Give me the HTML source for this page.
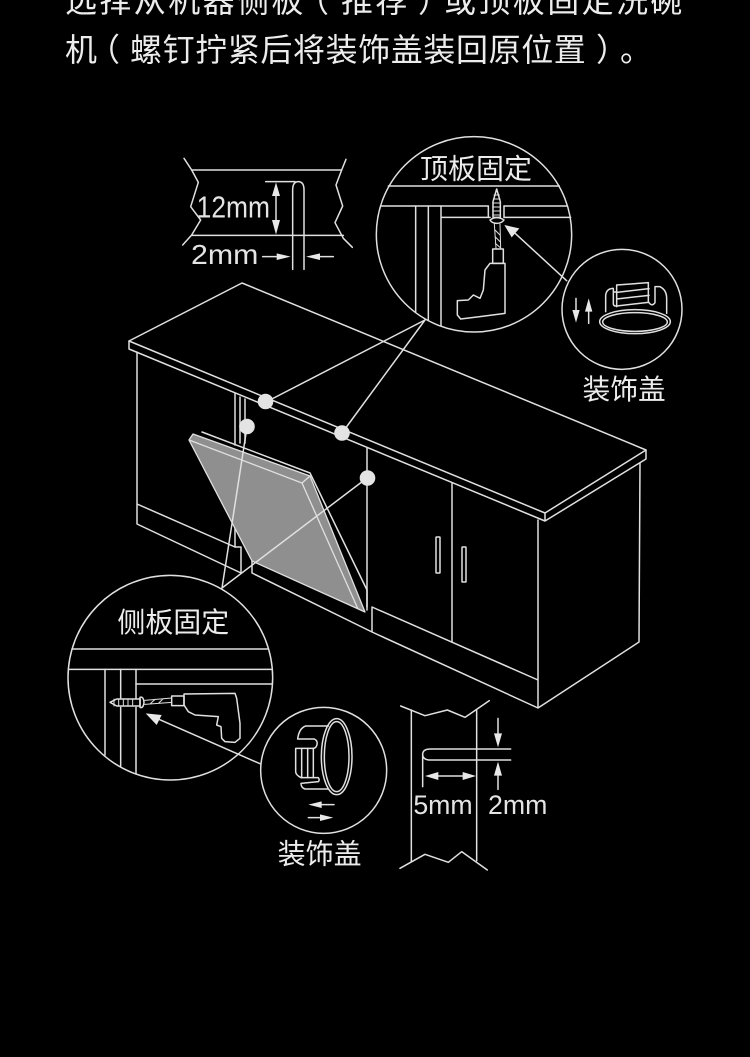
<!DOCTYPE html>
<html lang="zh">
<head>
<meta charset="utf-8">
<style>
html,body{margin:0;padding:0;background:#000;width:750px;height:1057px;overflow:hidden}
svg{display:block}
.l{fill:none;stroke:#e0e0e0;stroke-width:1.5;stroke-linejoin:round;stroke-linecap:round}
.z{fill:none;stroke:#e0e0e0;stroke-width:4.5;stroke-linejoin:round;stroke-linecap:round}
.a{fill:#e8e8e8;stroke:none}
.t{fill:#ececec;font-family:"Noto Sans CJK SC","WenQuanYi Zen Hei",sans-serif;font-weight:400}
.n{fill:#e4e4e4;font-family:"Liberation Sans",sans-serif}
</style>
</head>
<body>
<svg width="750" height="1057" viewBox="0 0 750 1057" xmlns="http://www.w3.org/2000/svg">
<rect width="750" height="1057" fill="#000"/>

<!-- heading -->
<g class="t" font-size="32">
<text x="65" y="12" letter-spacing="2.4">选择从机器侧板</text>
<text x="297" y="12">（</text>
<text x="341" y="12" letter-spacing="2.4">推荐</text>
<text x="418" y="12">）</text>
<text x="444" y="12" letter-spacing="2.4">或顶板固定洗碗</text>
<text x="65" y="61">机</text>
<text x="88" y="61">（</text>
<text x="130" y="61" letter-spacing=".6">螺钉拧紧后将装饰盖装回原位置</text>
<text x="596" y="61">）</text>
<text x="620" y="61">。</text>
</g>

<!-- cabinet -->
<g class="l">
<path d="M129 341L242 283L646 450L545 513Z"/>
<path d="M129 341V349L545 521V513M545 521L646 459V450"/>
<path d="M137 352V524L241 573V547L235 547L137 504"/>
<path d="M235 393V445M240 397V443M245 399V443"/>
<path d="M235 525V547"/>
<path d="M252 561V573L372 632V607L538 680M372 632L538 708V520M538 708L639 642L640 463"/>
<path d="M367 448V607"/>
<path d="M452 483V642"/>
<rect x="436" y="537" width="4" height="36" rx=".5"/>
<rect x="462" y="547" width="4" height="35" rx=".5"/>
<path d="M202 432L310 473L367 590V610"/>
</g>

<!-- panel -->
<path d="M189 440L193 434L310 476L365 612L252 561Z" fill="#8f8f8f" stroke="#e0e0e0" stroke-width="1.3" stroke-linejoin="round"/>
<path d="M189 440L302 483L358 609M302 483L310 476" fill="none" stroke="#e0e0e0" stroke-width="1.3"/>

<!-- leader lines -->
<g class="l">
<path d="M266 402L425 320L342 433"/>
<path d="M247 427L222 588L367 478"/>
</g>
<g fill="#e4e4e4">
<circle cx="265.5" cy="401.5" r="7.8"/>
<circle cx="247" cy="426.5" r="7.8"/>
<circle cx="342" cy="433" r="7.8"/>
<circle cx="367.5" cy="478" r="7.8"/>
</g>

<!-- top-left dimension -->
<g transform="translate(170 130) scale(.33333)">
<g class="z">
<path d="M42 85L65 120L85 157L62 230L92 270L65 315L38 345"/>
<path d="M528 88L515 120L498 165L518 228L495 278L520 325L547 352"/>
<path d="M65 120H515M65 316H520"/>
<path d="M368 418V180Q368 155 385 155Q402 155 402 180V418"/>
<path d="M287 155H375"/>
<path d="M318 190V285"/>
<path d="M278 380H330M490 380H440"/>
</g>
<path class="a" d="M318 157L330 198H306ZM318 314L306 270H330ZM362 380L320 370V390ZM408 380L450 370V390Z"/>
<text class="n" x="80" y="262" font-size="92" textLength="220" lengthAdjust="spacingAndGlyphs">12mm</text>
<text class="n" x="63" y="402" font-size="84" textLength="202" lengthAdjust="spacingAndGlyphs">2mm</text>
</g>

<!-- top circle detail -->
<g transform="translate(370 130) scale(.33333)">
<circle cx="312" cy="313" r="293" fill="#000" stroke="#e0e0e0" stroke-width="4.5"/>
<g class="z">
<path d="M55 168H568M33 228H355M402 228H592M215 262H360M402 262H602"/>
<path d="M137 228V545M175 228V570M213 228V588"/>
<path d="M355 228V262M402 228V262"/>
<path d="M380 177L391 215V262H369V215Z"/>
<path d="M372 195H388M370 207H390M368 219H392M368 231H392M368 243H392M368 255H392" stroke-width="3"/>
<path d="M360 270Q380 256 402 270Q395 280 380 280Q366 280 360 270Z"/>
<path d="M373 282L378 355M390 282L392 355M375 300L390 315M375 320L390 335M376 340L390 352" stroke-width="3"/>
<path d="M368 357H400V400H368Z"/>
<path d="M405 400H360L345 420L340 480L330 505L310 495L295 510L262 512V555L272 567L330 560L405 550Z"/>
<path d="M590 452L430 305"/>
</g>
<path class="a" d="M403 285L448 295L425 322Z"/>
</g>

<!-- right cap circle -->
<g transform="translate(370 130) scale(.33333)">
<circle cx="756" cy="538" r="180" fill="#000" stroke="#e0e0e0" stroke-width="4.5"/>
<g class="z">
<path d="M618 505V545M656 540V580"/>
</g>
<path class="a" d="M618 578L607 540H629ZM656 505L645 545H667Z"/>
<text class="t" x="150" y="146" font-size="84">顶板固定</text>
<text class="t" x="638" y="807" font-size="83">装饰盖</text>
</g>
<g transform="translate(595 270) scale(.33333)" class="z">
<ellipse cx="120" cy="155" rx="106" ry="36"/>
<ellipse cx="120" cy="156" rx="97" ry="28"/>
<path d="M32 125V75Q35 55 55 55V100Q55 108 62 108M55 66H65"/>
<path d="M65 45L160 38V95Q170 112 180 98V50H195Q215 60 215 85V130"/>
<path d="M65 45V110M65 67L162 56M65 87L162 76M65 108L160 97"/>
</g>

<!-- bottom-left circle -->
<g transform="translate(60 570) scale(.33333)">
<circle cx="331" cy="323" r="307" fill="#000" stroke="#e0e0e0" stroke-width="4.5"/>
<g class="z">
<path d="M36 237H622M26 298H636M228 342H636"/>
<path d="M135 298V555M182 298V385M182 412V590M228 298V385M228 412V610"/>
<path d="M150 397L170 387H240V408H170Z"/>
<path d="M162 387V408M176 387V408M190 387V408M204 387V408M218 387V408" stroke-width="3"/>
<path d="M240 382Q250 378 252 397Q250 416 240 412Z"/>
<path d="M254 391L335 384M254 403L335 397M270 402L285 388M295 400L310 386" stroke-width="3"/>
<path d="M335 378H372V407H335Z"/>
<path d="M372 372L525 370L530 385L540 460V505L525 517L495 515L485 505L483 470L470 465L475 440L405 435L385 425L372 405Z"/>
<path d="M602 582L290 445"/>
</g>
<path class="a" d="M257 430L305 435L290 465Z"/>
<text class="t" x="172" y="186" font-size="84">侧板固定</text>
</g>

<!-- bottom cap circle -->
<g transform="translate(60 570) scale(.33333)">
<circle cx="791" cy="601" r="189" fill="#000" stroke="#e0e0e0" stroke-width="4.5"/>
<g class="z">
<path d="M770 704H822M745 743H790"/>
</g>
<path class="a" d="M745 704L785 694V714ZM820 743L780 733V753Z"/>
<text class="t" x="653" y="881" font-size="84">装饰盖</text>
</g>
<g transform="translate(285 715) scale(.33333)" class="z">
<ellipse cx="155" cy="125" rx="46" ry="114"/>
<ellipse cx="155" cy="125" rx="37" ry="105"/>
<path d="M130 33H62Q42 40 38 72H88Q100 78 95 92Q92 100 85 100H32V170Q32 180 48 188H100Q105 195 100 200L48 205Q48 218 60 222H128"/>
<path d="M50 100V188M68 100V188M85 100V188"/>
</g>

<!-- bottom dimension -->
<g transform="translate(390 690) scale(.33333)">
<g class="z">
<path d="M32 48L105 77L172 60L225 82L298 32"/>
<path d="M30 535L105 493L175 517L215 485L292 540"/>
<path d="M64 60V515M260 62V512"/>
<path d="M362 177H122Q98 177 98 193Q98 210 122 210H362"/>
<path d="M98 193V290"/>
<path d="M130 258H230"/>
<path d="M324 85V130M324 255V298"/>
</g>
<path class="a" d="M324 172L312 130H336ZM324 215L312 257H336ZM105 258L145 246V270ZM258 258L218 246V270Z"/>
<text class="n" x="70" y="372" font-size="80" textLength="178" lengthAdjust="spacingAndGlyphs">5mm</text>
<text class="n" x="294" y="372" font-size="80" textLength="178" lengthAdjust="spacingAndGlyphs">2mm</text>
</g>
</svg>
</body>
</html>
